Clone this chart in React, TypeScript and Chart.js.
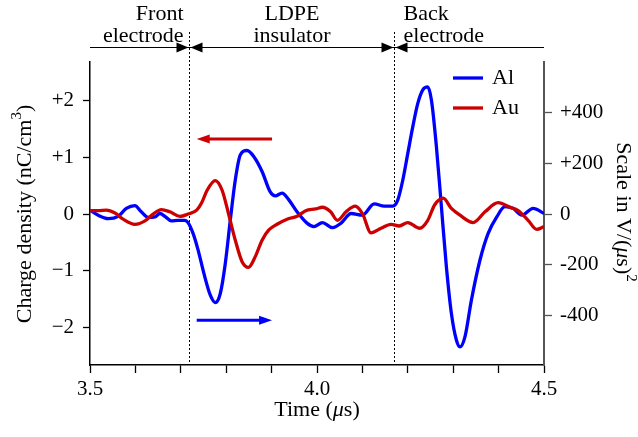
import React, { useEffect, useRef } from 'react';
import { Chart, registerables } from 'chart.js';

Chart.register(...registerables);

// ---------- data ----------
const alTimes = [3.500, 3.518, 3.540, 3.562, 3.580, 3.599, 3.613, 3.628, 3.643, 3.654, 3.665, 3.679, 3.694, 3.709, 3.716, 3.727, 3.738, 3.751, 3.765, 3.776, 3.787, 3.798, 3.809, 3.820, 3.831, 3.846, 3.861, 3.879, 3.897, 3.908, 3.923, 3.938, 3.956, 3.978, 3.993, 4.012, 4.034, 4.053, 4.075, 4.100, 4.126, 4.148, 4.167, 4.178, 4.189, 4.200, 4.211, 4.222, 4.233, 4.244, 4.252, 4.263, 4.274, 4.285, 4.296, 4.307, 4.315, 4.326, 4.340, 4.359, 4.377, 4.396, 4.414, 4.432, 4.451, 4.476, 4.500];
const alValues = [0.07, -0.02, -0.08, -0.04, 0.10, 0.15, 0.04, -0.06, -0.05, 0.01, -0.04, -0.12, -0.11, -0.11, -0.15, -0.34, -0.63, -1.05, -1.43, -1.56, -1.40, -0.87, -0.11, 0.60, 1.04, 1.12, 1.01, 0.75, 0.39, 0.32, 0.37, 0.25, 0.04, -0.16, -0.22, -0.15, -0.24, -0.16, 0.01, -0.02, 0.18, 0.14, 0.14, 0.25, 0.60, 1.07, 1.54, 1.95, 2.19, 2.24, 2.01, 1.19, 0.13, -0.93, -1.75, -2.22, -2.34, -2.16, -1.52, -0.81, -0.34, -0.05, 0.13, 0.10, -0.02, 0.10, 0.01];

const auTimes = [3.500, 3.518, 3.536, 3.555, 3.573, 3.599, 3.621, 3.639, 3.657, 3.676, 3.698, 3.716, 3.735, 3.746, 3.758, 3.776, 3.791, 3.805, 3.820, 3.835, 3.849, 3.864, 3.879, 3.894, 3.912, 3.934, 3.956, 3.975, 3.997, 4.012, 4.030, 4.045, 4.064, 4.084, 4.100, 4.119, 4.141, 4.163, 4.181, 4.200, 4.226, 4.244, 4.259, 4.278, 4.296, 4.315, 4.344, 4.370, 4.399, 4.425, 4.443, 4.465, 4.484, 4.500];
const auValues = [0.06, 0.06, 0.07, 0.02, -0.09, -0.18, -0.12, 0.00, 0.08, 0.04, -0.04, 0.00, 0.07, 0.20, 0.42, 0.59, 0.42, 0.01, -0.46, -0.84, -0.94, -0.75, -0.46, -0.28, -0.18, -0.09, -0.04, 0.06, 0.09, 0.12, 0.04, -0.11, 0.04, 0.14, 0.01, -0.33, -0.25, -0.18, -0.21, -0.15, -0.25, -0.11, 0.16, 0.28, 0.10, -0.02, -0.15, 0.04, 0.20, 0.12, 0.06, -0.11, -0.27, -0.22];

const seriesNames = ['Al', 'Au'];

const xTickValues = [3.5, 3.6, 3.7, 3.8, 3.9, 4.0, 4.1, 4.2, 4.3, 4.4, 4.5];
const xTickLabels = ['3.5', '', '', '', '', '4.0', '', '', '', '', '4.5'];
const leftTickValues = [-2, -1, 0, 1, 2];
const leftTickLabels = ['\u22122', '\u22121', '0', '+1', '+2'];
const rightTickValues = [-400, -200, 0, 200, 400];
const rightTickLabels = ['-400', '-200', '0', '+200', '+400'];

// region boundaries (µs) and region names
const boundaryTimes = [3.717, 4.169];
const regionNames = [['Front', 'electrode'], ['LDPE', 'insulator'], ['Back', 'electrode']];

// direction arrows [tStart, tEnd, value]
const auArrow = [3.901, 3.735, 1.323];
const alArrow = [3.735, 3.901, -1.87];

// ---------- styles ----------
const BLUE = '#0000ff';
const RED = '#cc0000';
const FAM = '"Liberation Serif", "Times New Roman", serif';
const F22 = `22px ${FAM}`;
const F22I = `italic 22px ${FAM}`;
const FSUP = `15px ${FAM}`;

type Part = [string, string, number?];

function drawRich(ctx: CanvasRenderingContext2D, parts: Part[], x: number, y: number, rot: number) {
  ctx.save();
  ctx.translate(x, y);
  ctx.rotate(rot);
  let total = 0;
  parts.forEach(([t, f]) => { ctx.font = f; total += ctx.measureText(t).width; });
  let cx = -total / 2;
  ctx.textBaseline = 'middle';
  ctx.textAlign = 'left';
  ctx.fillStyle = '#000';
  parts.forEach(([t, f, dy]) => {
    ctx.font = f;
    ctx.fillText(t, cx, dy || 0);
    cx += ctx.measureText(t).width;
  });
  ctx.restore();
}

function arrowHead(ctx: CanvasRenderingContext2D, tipX: number, y: number, dir: number, len: number, half: number) {
  ctx.beginPath();
  ctx.moveTo(tipX, y);
  ctx.lineTo(tipX - dir * len, y - half);
  ctx.lineTo(tipX - dir * len, y + half);
  ctx.closePath();
  ctx.fill();
}

const decorPlugin = {
  id: 'decor',
  beforeDatasetsDraw(chart: any) {
    const { ctx, chartArea, scales } = chart;
    ctx.save();
    ctx.strokeStyle = '#000';
    ctx.lineWidth = 1;
    ctx.setLineDash([2, 2]);
    boundaryTimes.forEach((t) => {
      const px = Math.round(scales.x.getPixelForValue(t)) + 0.5;
      ctx.beginPath();
      ctx.moveTo(px, 32);
      ctx.lineTo(px, chartArea.bottom);
      ctx.stroke();
    });
    ctx.restore();
  },
  afterDraw(chart: any) {
    const { ctx, chartArea, scales } = chart;
    const xs = scales.x;
    const ys = scales.y;
    ctx.save();

    // top region arrow line
    const yLine = 47.5;
    const b0 = Math.round(xs.getPixelForValue(boundaryTimes[0])) + 0.5;
    const b1 = Math.round(xs.getPixelForValue(boundaryTimes[1])) + 0.5;
    ctx.strokeStyle = '#000';
    ctx.fillStyle = '#000';
    ctx.lineWidth = 1.2;
    ctx.beginPath();
    ctx.moveTo(chartArea.left, yLine);
    ctx.lineTo(chartArea.right, yLine);
    ctx.stroke();
    arrowHead(ctx, b0 - 1, yLine, 1, 12, 5);
    arrowHead(ctx, b0 + 1, yLine, -1, 12, 5);
    arrowHead(ctx, b1 - 1, yLine, 1, 12, 5);
    arrowHead(ctx, b1 + 1, yLine, -1, 12, 5);

    // region texts
    ctx.font = F22;
    ctx.textBaseline = 'alphabetic';
    ctx.textAlign = 'right';
    ctx.fillText(regionNames[0][0], b0 - 6, 20);
    ctx.fillText(regionNames[0][1], b0 - 6, 42);
    ctx.textAlign = 'center';
    const mid = (b0 + b1) / 2;
    ctx.fillText(regionNames[1][0], mid, 20);
    ctx.fillText(regionNames[1][1], mid, 42);
    ctx.textAlign = 'left';
    ctx.fillText(regionNames[2][0], b1 + 9, 20);
    ctx.fillText(regionNames[2][1], b1 + 9, 42);

    // direction arrows
    const drawDirArrow = (a: number[], color: string) => {
      const x1 = xs.getPixelForValue(a[0]);
      const x2 = xs.getPixelForValue(a[1]);
      const yy = ys.getPixelForValue(a[2]);
      const dir = Math.sign(x2 - x1);
      ctx.strokeStyle = color;
      ctx.fillStyle = color;
      ctx.lineWidth = 3;
      ctx.beginPath();
      ctx.moveTo(x1, yy);
      ctx.lineTo(x2 - dir * 10, yy);
      ctx.stroke();
      arrowHead(ctx, x2, yy, dir, 13, 4.5);
    };
    drawDirArrow(auArrow, RED);
    drawDirArrow(alArrow, BLUE);

    // legend
    const legendItems = [[seriesNames[0], BLUE, 78], [seriesNames[1], RED, 108]] as [string, string, number][];
    legendItems.forEach(([name, color, ly]) => {
      ctx.strokeStyle = color;
      ctx.lineWidth = 3.3;
      ctx.beginPath();
      ctx.moveTo(453, ly);
      ctx.lineTo(483, ly);
      ctx.stroke();
      ctx.fillStyle = '#000';
      ctx.font = F22;
      ctx.textAlign = 'left';
      ctx.textBaseline = 'middle';
      ctx.fillText(name, 492, ly);
    });

    // axis titles
    drawRich(ctx, [['Time (', F22], ['\u03bc', F22I], ['s)', F22]], 317, 410, 0);
    drawRich(ctx, [['Charge density (nC/cm', F22], ['3', FSUP, -8], [')', F22]], 25, 214, -Math.PI / 2);
    drawRich(ctx, [['Scale in V/(', F22], ['\u03bc', F22I], ['s)', F22], ['2', FSUP, -8]], 623, 212, Math.PI / 2);

    ctx.restore();
  },
};

const tickFont = { family: FAM, size: 21 };

function lookup(values: number[], labels: string[], v: number) {
  const i = values.findIndex((t) => Math.abs(t - v) < 1e-9);
  return i >= 0 ? labels[i] : '';
}

export default function App() {
  const ref = useRef<HTMLCanvasElement | null>(null);

  useEffect(() => {
    if (!ref.current) return;
    const chart = new Chart(ref.current, {
      type: 'line',
      data: {
        datasets: [
          {
            label: seriesNames[0],
            data: alTimes.map((t, i) => ({ x: t, y: alValues[i] })),
            borderColor: BLUE,
            borderWidth: 3.3,
            pointRadius: 0,
            fill: false,
            cubicInterpolationMode: 'monotone',
            yAxisID: 'y',
            order: 1,
          },
          {
            label: seriesNames[1],
            data: auTimes.map((t, i) => ({ x: t, y: auValues[i] })),
            borderColor: RED,
            borderWidth: 3.3,
            pointRadius: 0,
            fill: false,
            cubicInterpolationMode: 'monotone',
            yAxisID: 'y',
            order: 0,
          },
        ],
      },
      options: {
        responsive: false,
        animation: false,
        events: [],
        layout: { padding: { top: 62, left: 0, right: 0, bottom: 0 } },
        plugins: { legend: { display: false }, tooltip: { enabled: false }, title: { display: false } },
        scales: {
          x: {
            type: 'linear',
            min: 3.5,
            max: 4.5,
            afterBuildTicks: (s: any) => { s.ticks = xTickValues.map((v) => ({ value: v })); },
            afterFit: (s: any) => { s.height = 72; },
            ticks: {
              autoSkip: false,
              maxRotation: 0,
              padding: 4,
              color: '#000',
              font: tickFont,
              callback: (v: any) => lookup(xTickValues, xTickLabels, Number(v)),
            },
            grid: { drawOnChartArea: false, drawTicks: true, tickLength: 8, tickColor: '#000', tickWidth: 1.3 },
            border: { display: true, color: '#000', width: 1.5 },
          },
          y: {
            type: 'linear',
            position: 'left',
            min: -2.66,
            max: 2.68,
            afterBuildTicks: (s: any) => { s.ticks = leftTickValues.map((v) => ({ value: v })); },
            afterFit: (s: any) => { s.width = 90; },
            ticks: {
              padding: 9,
              color: '#000',
              font: tickFont,
              callback: (v: any) => lookup(leftTickValues, leftTickLabels, Number(v)),
            },
            grid: { drawOnChartArea: false, drawTicks: true, tickLength: 7, tickColor: '#000', tickWidth: 1.3 },
            border: { display: true, color: '#000', width: 1.5 },
          },
          y2: {
            type: 'linear',
            position: 'right',
            min: -596,
            max: 600.3,
            afterBuildTicks: (s: any) => { s.ticks = rightTickValues.map((v) => ({ value: v })); },
            afterFit: (s: any) => { s.width = 94; },
            ticks: {
              padding: 8,
              color: '#000',
              font: tickFont,
              callback: (v: any) => lookup(rightTickValues, rightTickLabels, Number(v)),
            },
            grid: { drawOnChartArea: false, drawTicks: true, tickLength: 8, tickColor: '#555', tickWidth: 1.3 },
            border: { display: true, color: '#555', width: 2 },
          },
        },
      },
      plugins: [decorPlugin],
    } as any);
    return () => chart.destroy();
  }, []);

  return (
    <div style={{ position: 'absolute', left: 0, top: 0, width: 638, height: 437, background: '#fff' }}>
      <canvas ref={ref} width={638} height={437} style={{ width: 638, height: 437, display: 'block' }} />
    </div>
  );
}
